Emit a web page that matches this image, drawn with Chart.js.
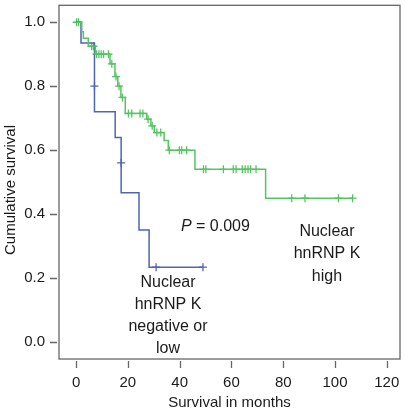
<!DOCTYPE html>
<html>
<head>
<meta charset="utf-8">
<script src="https://cdn.jsdelivr.net/npm/chart.js@4.4.0/dist/chart.umd.min.js"></script>
<style>
  html, body { margin: 0; padding: 0; background: #fff; }
  #wrap { width: 406px; height: 410px; }
</style>
</head>
<body>
<div id="wrap"><canvas id="kmChart" width="406" height="410"></canvas></div>
<script>
// Kaplan-Meier: nuclear hnRNP K high vs negative/low
const xTicks = [0, 20, 40, 60, 80, 100, 120];
const yTicks = [0.0, 0.2, 0.4, 0.6, 0.8, 1.0];

// high group (green) - step times and survival after each step
const highTimes = [0, 2.2, 2.8, 4.7, 7.4, 13.1, 15.0, 16.1, 17.3, 19.0, 27.3, 28.9, 30.2, 34.0, 35.6, 45.9, 73.2];
const highSurv = [1.0, 0.97, 0.95, 0.925, 0.90, 0.87, 0.83, 0.80, 0.765, 0.715, 0.697, 0.676, 0.655, 0.63, 0.60, 0.54, 0.45];
const highEnd = 106.8;
const highCensorT = [0.2, 0.9, 6.0, 6.7, 7.9, 8.8, 9.7, 10.6, 12.5, 13.8, 15.4, 16.6, 17.9, 20.2, 21.5, 24.7, 25.8, 27.8, 29.4, 31.2, 32.7, 36.0, 39.9, 40.8, 42.7, 49.2, 50.1, 56.9, 60.7, 61.8, 64.2, 65.3, 66.4, 67.4, 69.5, 83.3, 88.4, 101.3, 106.8];
const highCensorS = [1.0, 1.0, 0.925, 0.925, 0.90, 0.90, 0.90, 0.90, 0.90, 0.87, 0.83, 0.80, 0.765, 0.715, 0.715, 0.715, 0.715, 0.697, 0.676, 0.655, 0.655, 0.60, 0.60, 0.60, 0.60, 0.54, 0.54, 0.54, 0.54, 0.54, 0.54, 0.54, 0.54, 0.54, 0.54, 0.45, 0.45, 0.45, 0.45];

// negative or low group (blue)
const lowTimes = [0, 1.9, 7.1, 7.1, 15.1, 17.4, 17.4, 24.3, 28.2];
const lowSurv = [1.0, 0.935, 0.80, 0.72, 0.64, 0.56, 0.467, 0.35, 0.234];
const lowEnd = 49.0;
const lowCensorT = [7.1, 17.4, 30.9, 49.0];
const lowCensorS = [0.80, 0.56, 0.234, 0.234];

const BLUE = '#5064b2';
const GREEN = '#55c462';
const AXIS = '#666666';
const TEXT = '#1a1a1a';
const FONT = "'Liberation Sans', Arial, sans-serif";

function stepPoints(times, surv, end) {
    const pts = times.map((t, i) => ({ x: t, y: surv[i] }));
    pts.push({ x: end, y: surv[surv.length - 1] });
    return pts;
}
function censorPoints(ts, ss) {
    return ts.map((t, i) => ({ x: t, y: ss[i] }));
}

// box, outside tick marks, y title and text labels
const decor = {
    id: 'decor',
    afterDraw(chart) {
        const ctx = chart.ctx;
        const a = chart.chartArea;
        const xs = chart.scales.x, ys = chart.scales.y;
        ctx.save();
        ctx.strokeStyle = AXIS;
        ctx.lineWidth = 1.3;
        ctx.strokeRect(a.left, a.top, a.right - a.left, a.bottom - a.top);
        ctx.beginPath();
        yTicks.forEach(v => {
            const p = Math.round(ys.getPixelForValue(v)) + 0.5;
            ctx.moveTo(a.left - 9, p);
            ctx.lineTo(a.left - 2, p);
        });
        xTicks.forEach(v => {
            const p = Math.round(xs.getPixelForValue(v)) + 0.5;
            ctx.moveTo(p, a.bottom + 2);
            ctx.lineTo(p, a.bottom + 9);
        });
        ctx.stroke();

        ctx.fillStyle = TEXT;
        ctx.textBaseline = 'middle';
        // y axis title
        ctx.save();
        ctx.translate(11, 190);
        ctx.rotate(-Math.PI / 2);
        ctx.textAlign = 'center';
        ctx.font = '15px ' + FONT;
        ctx.fillText('Cumulative survival', 0, 0);
        ctx.restore();

        // p value
        ctx.textAlign = 'left';
        const px = xs.getPixelForValue(40.5), py = ys.getPixelForValue(0.36);
        ctx.font = 'italic 16px ' + FONT;
        ctx.fillText('P', px, py);
        const pw = ctx.measureText('P').width;
        ctx.font = '16px ' + FONT;
        ctx.fillText(' = 0.009', px + pw, py);

        ctx.textAlign = 'center';
        const hx = xs.getPixelForValue(96.9), hy = ys.getPixelForValue(0.346);
        ['Nuclear', 'hnRNP K', 'high'].forEach((s, i) => ctx.fillText(s, hx, hy + i * 22.5));
        const lx = xs.getPixelForValue(35.5), ly = ys.getPixelForValue(0.187);
        ['Nuclear', 'hnRNP K', 'negative or', 'low'].forEach((s, i) => ctx.fillText(s, lx, ly + i * 22));
        ctx.restore();
    }
};

new Chart(document.getElementById('kmChart').getContext('2d'), {
    type: 'line',
    data: {
        datasets: [{
            label: 'high',
            data: stepPoints(highTimes, highSurv, highEnd),
            borderColor: GREEN,
            borderWidth: 1.5,
            stepped: true,
            pointRadius: 0,
            fill: false
        }, {
            label: 'negative or low',
            data: stepPoints(lowTimes, lowSurv, lowEnd),
            borderColor: BLUE,
            borderWidth: 1.5,
            stepped: true,
            pointRadius: 0,
            fill: false
        }, {
            label: 'high censored',
            data: censorPoints(highCensorT, highCensorS),
            showLine: false,
            pointStyle: 'cross',
            pointRadius: 4,
            pointBorderColor: GREEN,
            pointBorderWidth: 1.3
        }, {
            label: 'low censored',
            data: censorPoints(lowCensorT, lowCensorS),
            showLine: false,
            pointStyle: 'cross',
            pointRadius: 4,
            pointBorderColor: BLUE,
            pointBorderWidth: 1.3
        }]
    },
    options: {
        responsive: false,
        animation: false,
        devicePixelRatio: 1,
        layout: { padding: { top: 4, right: 6, bottom: 0, left: 0 } },
        plugins: { legend: { display: false }, tooltip: { enabled: false } },
        scales: {
            x: {
                type: 'linear',
                min: -6.6,
                max: 125.1,
                grid: { display: false },
                border: { display: false },
                afterBuildTicks: s => { s.ticks = xTicks.map(v => ({ value: v })); },
                afterFit: s => { s.height = 51; s.paddingLeft = 0; s.paddingRight = 0; },
                ticks: {
                    color: TEXT,
                    padding: 7,
                    maxRotation: 0,
                    font: { family: FONT, size: 15 },
                    callback: v => String(v)
                },
                title: {
                    display: true,
                    text: 'Survival in months',
                    color: TEXT,
                    padding: { top: 0, bottom: -2 },
                    font: { family: FONT, size: 15 }
                }
            },
            y: {
                min: -0.053,
                max: 1.053,
                grid: { display: false },
                border: { display: false },
                afterBuildTicks: s => { s.ticks = yTicks.map(v => ({ value: v })); },
                afterFit: s => { s.width = 59; s.paddingTop = 0; s.paddingBottom = 0; },
                ticks: {
                    color: TEXT,
                    padding: 6,
                    font: { family: FONT, size: 15 },
                    callback: v => Number(v).toFixed(1)
                }
            }
        }
    },
    plugins: [decor]
});
</script>
</body>
</html>
